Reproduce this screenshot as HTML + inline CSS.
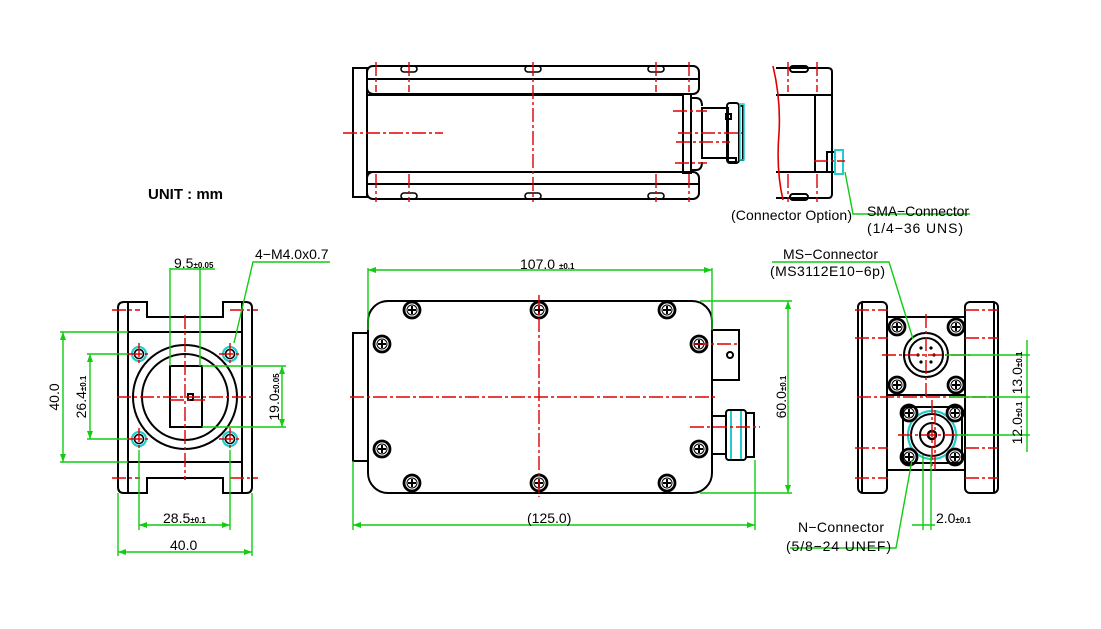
<!DOCTYPE html>
<html><head><meta charset="utf-8"><style>
html,body{margin:0;padding:0;background:#fff;}
svg{display:block;}
text{font-family:"Liberation Sans",sans-serif;fill:#000;}
</style></head><body>
<svg width="1101" height="629" viewBox="0 0 1101 629" xmlns="http://www.w3.org/2000/svg">
<defs>
<g id="scr"><circle r="8" fill="none" stroke="#000" stroke-width="2.8"/><circle r="5" fill="none" stroke="#000" stroke-width="1"/><path d="M-4 0H4M0-4V4" stroke="#000" stroke-width="2"/></g>
<g id="hole"><circle r="7" fill="none" stroke="#2cc" stroke-width="2.2"/><circle r="4.5" fill="none" stroke="#000" stroke-width="1.6"/></g>
</defs>
<rect width="1101" height="629" fill="#fff"/>

<g fill="none" stroke="#000" stroke-width="2">
<!-- TOP VIEW -->
<rect x="353" y="68" width="14" height="129"/>
<rect x="367" y="66" width="332" height="28" rx="6"/>
<line x1="367" y1="79" x2="699" y2="79"/>
<rect x="367" y="172" width="332" height="27" rx="6"/>
<line x1="367" y1="184" x2="699" y2="184"/>
<line x1="367" y1="95" x2="683" y2="95"/><line x1="367" y1="172" x2="683" y2="172"/>
<rect x="683" y="94" width="8" height="79"/>
<path d="M691 98h5q6 0 6 8M691 170h5q6 0 6-8"/>
<rect x="702" y="108" width="26" height="50"/>
<rect x="727" y="103" width="12" height="60" rx="3"/>
<rect x="739" y="106" width="4" height="54"/>
<rect x="726" y="114" width="5" height="5"/>
<rect x="728" y="158" width="8" height="4"/>
<g stroke-width="1.6">
<rect x="401" y="66" width="16" height="6" rx="3"/><rect x="525" y="66" width="16" height="6" rx="3"/><rect x="648" y="66" width="16" height="6" rx="3"/>
<rect x="401" y="193" width="16" height="6" rx="3"/><rect x="525" y="193" width="16" height="6" rx="3"/><rect x="648" y="193" width="16" height="6" rx="3"/>
</g>
<!-- side view -->
<path d="M776 68H828q4 0 4 4V194q0 4-4 4H776" />
<line x1="776" y1="95" x2="832" y2="95"/><line x1="776" y1="172" x2="832" y2="172"/>
<line x1="815" y1="95" x2="815" y2="172"/>
<rect x="827" y="152" width="8" height="20"/>
<rect x="835" y="150" width="8" height="24" stroke="#2cc"/>
<rect x="790" y="66" width="18" height="6" rx="3"/><rect x="790" y="194" width="18" height="6" rx="3"/>

<!-- LEFT END VIEW -->
<path d="M124 302h23v15h76v-15h23q6 0 6 6v179q0 6-6 6h-23v-15h-76v15h-23q-6 0-6-6v-179q0-6 6-6z"/>
<line x1="128" y1="302" x2="128" y2="493"/><line x1="242" y1="302" x2="242" y2="493"/>
<rect x="128" y="332" width="114" height="130" />
<circle cx="185" cy="397" r="52"/><circle cx="185" cy="397" r="43"/>
<rect x="170" y="366" width="32" height="61"/>
<rect x="188" y="394" width="5" height="6"/>

<!-- MIDDLE VIEW -->
<rect x="353" y="333" width="15" height="128"/>
<rect x="368" y="301" width="344" height="192" rx="20"/>
<rect x="712" y="330" width="27" height="50"/>
<circle cx="730" cy="355" r="3"/>
<rect x="712" y="416" width="14" height="38"/>
<rect x="726" y="410" width="20" height="50" rx="3"/>
<rect x="746" y="413" width="8" height="44"/>
<line x1="731" y1="411" x2="731" y2="459" stroke="#2cc"/>
<line x1="741" y1="411" x2="741" y2="459" stroke="#2cc"/>

<!-- RIGHT END VIEW -->
<rect x="858" y="302" width="29" height="191" rx="5"/>
<rect x="965" y="302" width="33" height="191" rx="5"/>
<line x1="862" y1="302" x2="862" y2="493"/><line x1="994" y1="302" x2="994" y2="493"/>
<rect x="887" y="317" width="78" height="78"/>
<path d="M887 470h78"/>
<circle cx="926" cy="355" r="22"/><circle cx="926" cy="355" r="17"/>
<rect x="903" y="407" width="59" height="56" rx="4"/>
<circle cx="932" cy="435" r="24" stroke="#2cc" stroke-width="2.2"/>
<circle cx="932" cy="435" r="21"/><circle cx="932" cy="435" r="12"/><circle cx="932" cy="435" r="4" stroke-width="2.5"/>
</g>
<g fill="#000">
<circle cx="921" cy="348" r="1.6"/><circle cx="931" cy="348" r="1.6"/><circle cx="918" cy="355" r="1.6"/><circle cx="934" cy="355" r="1.6"/><circle cx="921" cy="362" r="1.6"/><circle cx="931" cy="362" r="1.6"/>
</g>
<rect x="740" y="104" width="4" height="56" fill="none" stroke="#2cc" stroke-width="1.5"/>

<use href="#scr" x="412" y="310"/><use href="#scr" x="539" y="310"/><use href="#scr" x="667" y="310"/>
<use href="#scr" x="382" y="344"/><use href="#scr" x="382" y="449"/>
<use href="#scr" x="699" y="344"/><use href="#scr" x="699" y="449"/>
<use href="#scr" x="412" y="483"/><use href="#scr" x="539" y="483"/><use href="#scr" x="667" y="483"/>
<use href="#scr" x="897" y="327"/><use href="#scr" x="956" y="327"/><use href="#scr" x="897" y="385"/><use href="#scr" x="956" y="385"/>
<use href="#scr" x="909" y="413"/><use href="#scr" x="955" y="413"/><use href="#scr" x="909" y="457"/><use href="#scr" x="955" y="457"/>
<use href="#hole" x="139" y="354"/><use href="#hole" x="230" y="354"/><use href="#hole" x="139" y="439"/><use href="#hole" x="230" y="439"/>

<!-- red -->
<path d="M773 66Q781 100 779 133Q776 170 783 200" stroke="#d00" stroke-width="1.6" fill="none"/>
<g stroke="#d00" stroke-width="1.4" stroke-dasharray="14 3 3 3" fill="none">
<path d="M376 62V92M409 62V92M533 62V202M656 62V92M689 62V92M376 174V202M409 174V202M656 174V202M689 174V202"/>
<path d="M343 133H443M678 133H742M673 111H707M676 142H730M675 163H707"/>
<path d="M788 62V92M817 62V92M788 174V202M817 174V202M814 161H845"/>
<path d="M112 310H140M112 478H140M230 310H258M230 478H258M185 315V480M117 397H255M170 400H205"/>
<path d="M128 354H150M128 439H150M219 354H242M219 439H242M139 343V365M139 428V450M230 343V365M230 428V450"/>
<path d="M350 397H717M539 295V497M694 344H737M690 427H760"/>
<path d="M855 310H888M855 338H888M855 448H888M855 478H888M965 310H998M965 338H998M965 448H998M965 478H998"/>
<path d="M857 397H997M882 355H970M926 314V400M932 400V470M898 435H968M935 410V470"/>
</g>

<g stroke="#1c1" stroke-width="1.4" fill="none">
<path d="M60 332H128M60 462H128M63 332V462M87 354H128M87 439H128M90 354V439"/>
<path d="M202 366H286M202 427H286M282 366V427"/>
<path d="M170 268V366M200 268V366M170 269H215"/>
<path d="M139 450V530M230 450V530M139 525H230M118 493V556M252 493V556M118 552H252"/>
<path d="M234 343L253 262H330"/>
<path d="M368 268V330M712 268V330M368 270H712M353 461V530M755 460V530M353 525H755"/>
<path d="M700 301H792M700 493H792M788 301V493"/>
<path d="M946 355H1030M950 397H1030M955 435H1030M1027 340V452"/>
<path d="M923 455V530M931 455V530M912 525H935"/>
<path d="M913 339L889 262H772M912 460L896 548H790M845 172L853 214H970"/>
</g>
<g fill="#1c1">
<path d="M63 332l-3 8h6zM63 462l-3-8h6zM90 354l-3 8h6zM90 439l-3-8h6zM282 366l-3 8h6zM282 427l-3-8h6z"/>
<path d="M139 525l8-3v6zM230 525l-8-3v6zM118 552l8-3v6zM252 552l-8-3v6z"/>
<path d="M368 270l8-3v6zM712 270l-8-3v6zM353 525l8-3v6zM755 525l-8-3v6zM788 301l-3 8h6zM788 493l-3-8h6z"/>
</g>

<text x="148" y="199" font-size="15" font-weight="bold">UNIT : mm</text>
<text x="174" y="268" font-size="14">9.5<tspan font-size="8" font-weight="bold">±0.05</tspan></text>
<text x="255" y="259" font-size="14">4−M4.0x0.7</text>
<text x="163" y="523" font-size="14">28.5<tspan font-size="8" font-weight="bold">±0.1</tspan></text>
<text x="170" y="550" font-size="14">40.0</text>
<text transform="translate(59 397) rotate(-90)" font-size="14" text-anchor="middle">40.0</text>
<text transform="translate(86 397) rotate(-90)" font-size="14" text-anchor="middle">26.4<tspan font-size="8" font-weight="bold">±0.1</tspan></text>
<text transform="translate(279 397) rotate(-90)" font-size="14" text-anchor="middle">19.0<tspan font-size="8" font-weight="bold">±0.05</tspan></text>
<text x="520" y="269" font-size="14">107.0 <tspan font-size="8" font-weight="bold">±0.1</tspan></text>
<text x="527" y="523" font-size="14">(125.0)</text>
<text transform="translate(786 397) rotate(-90)" font-size="14" text-anchor="middle">60.0<tspan font-size="8" font-weight="bold">±0.1</tspan></text>
<text transform="translate(1022 373) rotate(-90)" font-size="14" text-anchor="middle">13.0<tspan font-size="8" font-weight="bold">±0.1</tspan></text>
<text transform="translate(1022 423) rotate(-90)" font-size="14" text-anchor="middle">12.0<tspan font-size="8" font-weight="bold">±0.1</tspan></text>
<text x="936" y="523" font-size="14">2.0<tspan font-size="8" font-weight="bold">±0.1</tspan></text>
<text x="731" y="220" font-size="14" textLength="121">(Connector Option)</text>
<text x="867" y="216" font-size="14" textLength="102">SMA−Connector</text>
<text x="867" y="233" font-size="14" textLength="96">(1/4−36 UNS)</text>
<text x="783" y="259" font-size="14" textLength="95">MS−Connector</text>
<text x="770" y="276" font-size="14" textLength="115">(MS3112E10−6p)</text>
<text x="798" y="532" font-size="14" textLength="86">N−Connector</text>
<text x="786" y="551" font-size="14" textLength="105">(5/8−24 UNEF)</text>
</svg>
</body></html>
